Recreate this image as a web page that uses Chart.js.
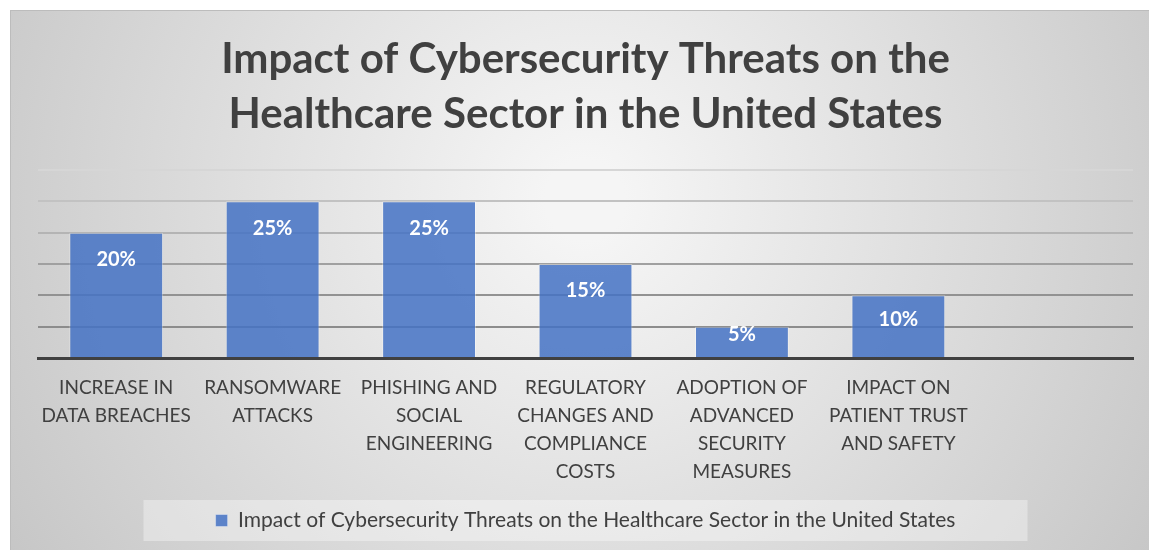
<!DOCTYPE html>
<html>
<head>
<meta charset="utf-8">
<script src="https://cdn.jsdelivr.net/npm/chart.js@4.4.1/dist/chart.umd.min.js"></script>
<style>
  html, body { margin: 0; padding: 0; background: #fff; }
  #wrap { width: 1149px; height: 550px; position: relative; }
</style>
</head>
<body>
<div id="wrap"><canvas id="impact_chart"></canvas></div>
<script>
const chartTitle = ['Impact of Cybersecurity Threats on the', 'Healthcare Sector in the United States'];
const seriesName = 'Impact of Cybersecurity Threats on the Healthcare Sector in the United States';
const categories = [
  ['INCREASE IN', 'DATA BREACHES'],
  ['RANSOMWARE', 'ATTACKS'],
  ['PHISHING AND', 'SOCIAL', 'ENGINEERING'],
  ['REGULATORY', 'CHANGES AND', 'COMPLIANCE', 'COSTS'],
  ['ADOPTION OF', 'ADVANCED', 'SECURITY', 'MEASURES'],
  ['IMPACT ON', 'PATIENT TRUST', 'AND SAFETY'],
  ''
];
const impactValues = [20, 25, 25, 15, 5, 10, null];
const yTicks = [0, 5, 10, 15, 20, 25, 30];

const textColor = '#404040';
const fontName = 'Lato, "Open Sans", sans-serif';

// grey gradient frame behind everything
const frameBg = {
  id: 'frameBg',
  beforeDraw(chart) {
    const ctx = chart.ctx;
    ctx.save();
    const g = ctx.createRadialGradient(585, 200, 40, 585, 200, 720);
    g.addColorStop(0, '#f5f5f5');
    g.addColorStop(1, '#c3c3c3');
    ctx.fillStyle = g;
    ctx.fillRect(10, 10, 1139, 540);
    ctx.strokeStyle = '#bcbcbc';
    ctx.lineWidth = 1;
    ctx.strokeRect(10.5, 10.5, 1145, 545);

    // legend panel
    const lg = chart.legend;
    const cx = (lg.left + lg.right) / 2;
    ctx.fillStyle = 'rgba(255,255,255,0.35)';
    ctx.fillRect(cx - 442, lg.top, 884, lg.height);
    ctx.restore();
  }
};

// percentage labels inside top of bars
const barLabels = {
  id: 'barLabels',
  afterDatasetsDraw(chart) {
    const ctx = chart.ctx;
    const meta = chart.getDatasetMeta(0);
    ctx.save();
    ctx.fillStyle = '#ffffff';
    ctx.font = 'bold 20px ' + fontName;
    ctx.textAlign = 'center';
    ctx.textBaseline = 'middle';
    meta.data.forEach((bar, i) => {
      const v = impactValues[i];
      if (v == null) return;
      const h = bar.base - bar.y;
      const off = Math.min(27, h / 2 - 7);
      ctx.fillText(v + '%', bar.x, bar.y + off);
    });
    ctx.restore();
  }
};

const gridShades = ['#8c8c8c', '#8c8c8c', '#929292', '#a0a0a0', '#b4b4b4', '#c2c2c2', '#d6d6d6'];

new Chart(document.getElementById('impact_chart'), {
  type: 'bar',
  data: {
    labels: categories,
    datasets: [{
      label: seriesName,
      data: impactValues,
      backgroundColor: 'rgba(68,114,196,0.85)',
      borderColor: 'rgba(255,255,255,0.35)',
      borderWidth: 1,
      barPercentage: 0.6,
      categoryPercentage: 1
    }]
  },
  options: {
    responsive: true,
    maintainAspectRatio: false,
    animation: false,
    layout: { padding: { left: 38, right: 16, top: 0, bottom: 9 } },
    plugins: {
      title: {
        display: true,
        text: chartTitle,
        color: textColor,
        font: { family: fontName, size: 42, weight: 'bold', lineHeight: 1.31 },
        padding: { top: 32, bottom: 28 }
      },
      legend: {
        position: 'bottom',
        labels: {
          color: textColor,
          font: { family: fontName, size: 21 },
          boxWidth: 12,
          boxHeight: 12,
          padding: 10
        }
      },
      tooltip: { enabled: false }
    },
    scales: {
      x: {
        grid: { display: false },
        border: { display: true, color: textColor, width: 3 },
        ticks: {
          color: textColor,
          font: { family: fontName, size: 19, lineHeight: 1.47 },
          maxRotation: 0,
          autoSkip: false,
          padding: 8
        },
        afterFit(axis) { axis.height = 142; }
      },
      y: {
        min: 0,
        max: 30,
        afterBuildTicks(axis) { axis.ticks = yTicks.map(v => ({ value: v })); },
        grid: {
          color: ctx => gridShades[ctx.index] || '#999',
          lineWidth: 2,
          drawTicks: false
        },
        border: { display: false },
        ticks: { display: false },
        afterFit(axis) { axis.width = 0; }
      }
    }
  },
  plugins: [frameBg, barLabels]
});
</script>
</body>
</html>
